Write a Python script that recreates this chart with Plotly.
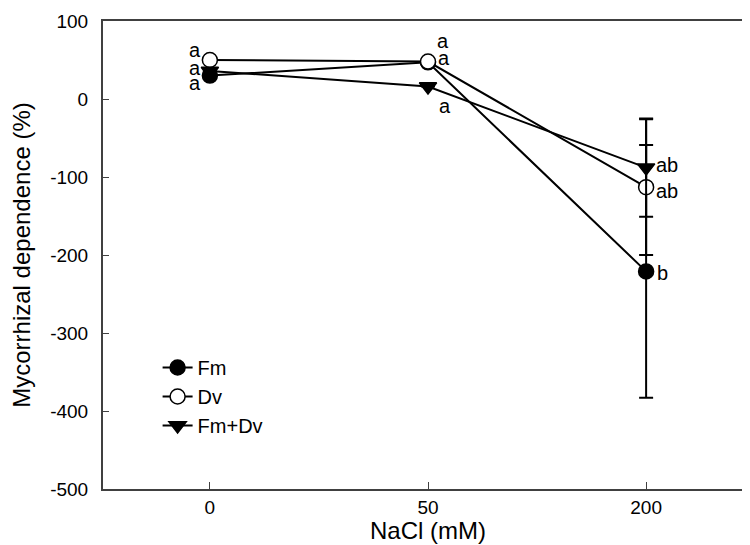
import plotly.graph_objects as go

# ---- data ----
categories = ["0", "50", "200"]
series_names = ["Fm", "Dv", "Fm+Dv"]
fm_values = [30, 47, -221]
dv_values = [50, 48, -113]
fmdv_values = [36, 16, -88]
fm_err = [0, 0, 162]
dv_err = [0, 0, 87]
fmdv_err = [0, 0, 63]
fm_letters = ["a", "a", "b"]
dv_letters = ["a", "a", "ab"]
fmdv_letters = ["a", "a", "ab"]
y_ticks = [100, 0, -100, -200, -300, -400, -500]
x_title = "NaCl (mM)"
y_title = "Mycorrhizal dependence (%)"

FONT = "Liberation Sans, Arial, sans-serif"
xpos = list(range(len(categories)))

fig = go.Figure()
styles = {
    "Fm": dict(symbol="circle", color="black", size=15),
    "Dv": dict(symbol="circle", color="white", size=15),
    "Fm+Dv": dict(symbol="triangle-down", color="black", size=15),
}
vals = {"Fm": fm_values, "Dv": dv_values, "Fm+Dv": fmdv_values}
errs = {"Fm": fm_err, "Dv": dv_err, "Fm+Dv": fmdv_err}
letters = {"Fm": fm_letters, "Dv": dv_letters, "Fm+Dv": fmdv_letters}

for name in series_names:
    st = styles[name]
    fig.add_trace(go.Scatter(
        x=xpos, y=vals[name], name=name, mode="lines+markers",
        line=dict(color="black", width=2),
        marker=dict(symbol=st["symbol"], size=st["size"], color=st["color"],
                    line=dict(color="black", width=1.5)),
        error_y=dict(type="data", array=errs[name], visible=True,
                     color="black", thickness=2, width=7),
    ))

# letter placement offsets (pixels): per series per category (xshift, yshift, xanchor)
offsets = {
    "Fm":    [(-8, -7, "right"), (9, 4, "left"), (10, -2, "left")],
    "Dv":    [(-8, 10, "right"), (8, 21, "left"), (9, -4, "left")],
    "Fm+Dv": [(-8, 3, "right"), (10, -19, "left"), (9, 3, "left")],
}
for name in series_names:
    for i in range(len(categories)):
        xs, ys, xa = offsets[name][i]
        fig.add_annotation(x=xpos[i], y=vals[name][i], text=letters[name][i],
                           showarrow=False, xanchor=xa, yanchor="middle",
                           xshift=xs, yshift=ys, borderpad=0,
                           font=dict(family=FONT, size=20, color="black"))

# x-axis title as a paper-anchored annotation (keeps it inside the canvas)
fig.add_annotation(x=0.5, y=0, xref="paper", yref="paper", text=x_title,
                   showarrow=False, xanchor="center", yanchor="top",
                   yshift=-27, borderpad=0,
                   font=dict(family=FONT, size=24, color="black"))

fig.update_layout(
    width=750, height=545,
    margin=dict(l=95, r=3, t=11, b=64),
    paper_bgcolor="white", plot_bgcolor="white",
    font=dict(family=FONT, size=20, color="black"),
    showlegend=True,
    legend=dict(x=0.084, y=0.094, xanchor="left", yanchor="bottom",
                bgcolor="rgba(0,0,0,0)", font=dict(family=FONT, size=20),
                tracegroupgap=0),
)
fig.update_xaxes(
    range=[-0.49, 2.49], tickmode="array", tickvals=xpos, ticktext=categories,
    showline=True, linecolor="#404040", linewidth=2, mirror=True,
    ticks="inside", ticklen=7, tickwidth=1, tickcolor="#404040",
    showgrid=False, zeroline=False, ticklabelstandoff=0,
    ticklabeloverflow="allow",
    tickfont=dict(family=FONT, size=19),
)
fig.update_yaxes(
    range=[-500, 100], tickmode="array", tickvals=y_ticks,
    ticktext=[str(v) for v in y_ticks],
    showline=True, linecolor="#404040", linewidth=2, mirror=True,
    ticks="inside", ticklen=6, tickwidth=1, tickcolor="#404040",
    showgrid=False, zeroline=False, ticklabelstandoff=9,
    ticklabeloverflow="allow",
    title=dict(text=y_title, font=dict(family=FONT, size=24), standoff=18),
    tickfont=dict(family=FONT, size=19),
)

fig.write_html("out.html")
